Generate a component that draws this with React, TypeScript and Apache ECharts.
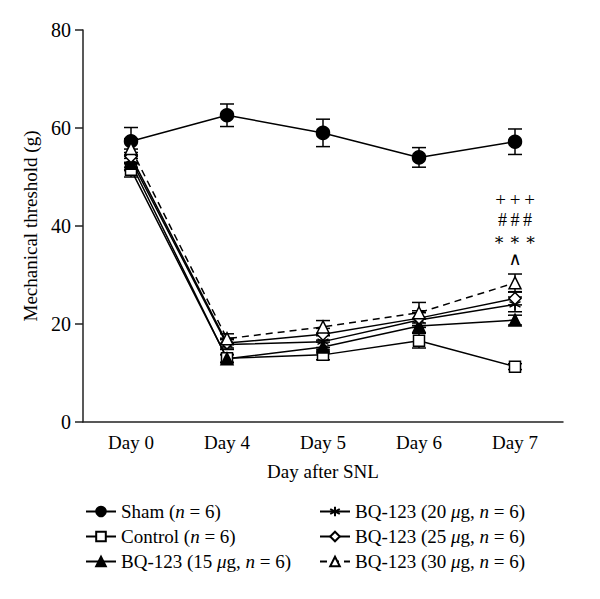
import React, { useEffect, useRef } from "react";
import * as echarts from "echarts";

const days = ["Day 0", "Day 4", "Day 5", "Day 6", "Day 7"];
const yTicks = [0, 20, 40, 60, 80];

const sham = [57.3, 62.6, 59.0, 54.0, 57.2];
const shamErr = [2.8, 2.3, 2.8, 2.0, 2.6];
const control = [51.5, 13.0, 13.7, 16.6, 11.3];
const controlErr = [1.5, 0.8, 1.0, 1.5, 0.6];
const bq15 = [52.8, 12.9, 15.3, 19.6, 20.8];
const bq15Err = [1.5, 0.8, 1.0, 1.4, 1.0];
const bq20 = [53.5, 15.8, 16.4, 20.8, 24.0];
const bq20Err = [1.5, 1.0, 1.2, 1.5, 1.5];
const bq25 = [54.2, 16.1, 17.9, 21.2, 25.2];
const bq25Err = [1.5, 1.0, 1.2, 1.5, 1.3];
const bq30 = [55.8, 17.0, 19.4, 22.3, 28.4];
const bq30Err = [2.0, 1.0, 1.3, 2.1, 1.8];

const annotations = [
  { text: "+\u2009+\u2009+", value: 45.5, size: 19 },
  { text: "#\u2009#\u2009#", value: 41.3, size: 18 },
  { text: "∗ ∗ ∗", value: 37.2, size: 17 },
  { text: "∧", value: 33.2, size: 18 },
];

const FONT = "'Liberation Serif', 'DejaVu Serif', serif";
const STAR = "path://M0,-5L0,5M-4.33,-2.5L4.33,2.5M-4.33,2.5L4.33,-2.5";

const legendLabels: Record<string, string> = {
  Sham: "{t|Sham (}{i|n}{t| = 6)}",
  Control: "{t|Control (}{i|n}{t| = 6)}",
  BQ15: "{t|BQ-123 (15 }{i|μ}{t|g, }{i|n}{t| = 6)}",
  BQ20: "{t|BQ-123 (20 }{i|μ}{t|g, }{i|n}{t| = 6)}",
  BQ25: "{t|BQ-123 (25 }{i|μ}{t|g, }{i|n}{t| = 6)}",
  BQ30: "{t|BQ-123 (30 }{i|μ}{t|g, }{i|n}{t| = 6)}",
};

function errSeries(vals: number[], errs: number[]) {
  return {
    type: "custom",
    silent: true,
    z: 1,
    data: vals.map((v, i) => [i, v, errs[i]]),
    encode: { x: 0, y: 1 },
    renderItem: (_p: any, api: any) => {
      const x = api.value(0);
      const y = api.value(1);
      const e = api.value(2);
      const top = api.coord([x, y + e]);
      const bot = api.coord([x, y - e]);
      const hw = 7;
      const st = { stroke: "#000", lineWidth: 1.5 };
      return {
        type: "group",
        children: [
          { type: "line", shape: { x1: top[0], y1: top[1], x2: bot[0], y2: bot[1] }, style: st },
          { type: "line", shape: { x1: top[0] - hw, y1: top[1], x2: top[0] + hw, y2: top[1] }, style: st },
          { type: "line", shape: { x1: bot[0] - hw, y1: bot[1], x2: bot[0] + hw, y2: bot[1] }, style: st },
        ],
      };
    },
  };
}

function lineSeries(name: string, vals: number[], symbol: string, size: number, fill: string, dashed = false) {
  return {
    name,
    type: "line",
    data: vals,
    symbol,
    symbolSize: size,
    z: 3,
    lineStyle: { color: "#000", width: 1.5, type: dashed ? [7, 5] : "solid" },
    itemStyle: { color: fill, borderColor: "#000", borderWidth: 1.5 },
  };
}

export default function App() {
  const ref = useRef<HTMLDivElement>(null);
  useEffect(() => {
    if (!ref.current) return;
    const chart = echarts.init(ref.current, null, { renderer: "svg" });
    const legendCommon = {
      orient: "vertical",
      itemWidth: 30,
      itemHeight: 12,
      itemGap: 6,
      formatter: (n: string) => legendLabels[n],
      textStyle: {
        fontFamily: FONT,
        fontSize: 19,
        color: "#000",
        rich: {
          t: { fontFamily: FONT, fontSize: 19, color: "#000", lineHeight: 20 },
          i: { fontFamily: FONT, fontSize: 19, color: "#000", fontStyle: "italic", lineHeight: 20 },
        },
      },
    };
    chart.setOption({
      animation: false,
      backgroundColor: "#fff",
      grid: { left: 83, right: 37, top: 30, bottom: 177 },
      legend: [
        { ...legendCommon, left: 80, top: 497, data: ["Sham", "Control", "BQ15"] },
        { ...legendCommon, left: 314, top: 497, data: ["BQ20", "BQ25", "BQ30"] },
      ],
      xAxis: {
        type: "category",
        data: days,
        boundaryGap: true,
        name: "Day after SNL",
        nameLocation: "middle",
        nameGap: 40,
        nameTextStyle: { fontFamily: FONT, fontSize: 19, color: "#000" },
        axisLine: { lineStyle: { color: "#222", width: 1.5 } },
        axisTick: { alignWithLabel: true, length: 7, lineStyle: { color: "#222", width: 1.5 } },
        axisLabel: { fontFamily: FONT, fontSize: 19, color: "#000", margin: 11 },
      },
      yAxis: {
        type: "value",
        min: yTicks[0],
        max: yTicks[yTicks.length - 1],
        interval: 20,
        name: "Mechanical threshold (g)",
        nameLocation: "middle",
        nameGap: 40,
        nameTextStyle: { fontFamily: FONT, fontSize: 19, color: "#000" },
        axisLine: { show: true, lineStyle: { color: "#222", width: 1.5 } },
        axisTick: { show: true, length: 8, lineStyle: { color: "#222", width: 1.5 } },
        axisLabel: { fontFamily: FONT, fontSize: 20, color: "#000", margin: 12 },
        splitLine: { show: false },
      },
      series: [
        errSeries(sham, shamErr),
        errSeries(control, controlErr),
        errSeries(bq15, bq15Err),
        errSeries(bq20, bq20Err),
        errSeries(bq25, bq25Err),
        errSeries(bq30, bq30Err),
        lineSeries("Sham", sham, "circle", 13, "#000"),
        lineSeries("Control", control, "rect", 11, "#fff"),
        lineSeries("BQ15", bq15, "triangle", 12, "#000"),
        lineSeries("BQ20", bq20, STAR, 11, "#000"),
        lineSeries("BQ25", bq25, "diamond", 12, "#fff"),
        lineSeries("BQ30", bq30, "triangle", 12, "#fff", true),
        {
          type: "scatter",
          silent: true,
          symbolSize: 0,
          itemStyle: { color: "#000", opacity: 1 },
          data: annotations.map((a) => ({
            value: [days[4], a.value],
            name: a.text,
            label: { fontSize: a.size },
          })),
          label: {
            show: true,
            position: "inside",
            formatter: (p: any) => p.name,
            fontFamily: FONT,
            color: "#000",
            opacity: 1,
          },
        },
      ],
    });
    return () => chart.dispose();
  }, []);
  return (
    <div
      ref={ref}
      style={{ position: "fixed", left: 0, top: 0, width: 600, height: 599, background: "#fff" }}
    />
  );
}
